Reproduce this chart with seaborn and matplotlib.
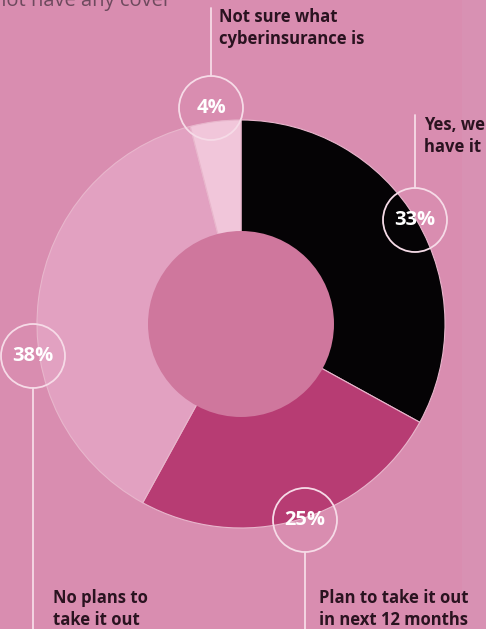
import matplotlib
matplotlib.use("Agg")
import matplotlib.pyplot as plt
import seaborn as sns
from matplotlib.patches import Circle, Rectangle

# ---- data ----
categories = ["Yes, we\nhave it", "Plan to take it out\nin next 12 months",
              "No plans to\ntake it out", "Not sure what\ncyberinsurance is"]
values = [33, 25, 38, 4]
pct_labels = ["33%", "25%", "38%", "4%"]
colors = ["#050305", "#b73c73", "#e2a1c1", "#f1c6da"]

BG = "#d98db0"
INNER = "#cf779d"
TEXT = "#2a1320"

sns.set_theme(style="white")
plt.rcParams["font.family"] = ["Open Sans", "DejaVu Sans"]

W, H = 486, 629
fig = plt.figure(figsize=(W / 100, H / 100), dpi=100, facecolor=BG)
ax = fig.add_axes([0, 0, 1, 1])
ax.set_xlim(0, W)
ax.set_ylim(0, H)
ax.set_aspect("equal")
ax.axis("off")
ax.set_facecolor(BG)

def Y(y):
    return H - y

# subtle background band on the right
ax.add_patch(Rectangle((462, 0), 30, H, facecolor="#d891b3", edgecolor="none", zorder=0))

cx, cy, R, r_in = 241, Y(324), 204, 93
ax.pie(values, colors=colors, startangle=90, counterclock=False,
       center=(cx, cy), radius=R, frame=True,
       wedgeprops=dict(linewidth=0.8, edgecolor="#e8b6cc"))
ax.set_xlim(0, W)
ax.set_ylim(0, H)
ax.axis("off")
ax.add_patch(Circle((cx, cy), r_in, facecolor=INNER, edgecolor="none", zorder=3))

# label circles: (center x, center y, line end y, text x, first baseline y)
rc = 32
specs = [
    (415, 220, 115, 424, 130),   # Yes
    (305, 520, 629, 319, 603),   # Plan
    (33, 356, 629, 53, 603),     # No plans
    (211, 108, 8, 219, 22),      # Not sure
]
for (x, y, yl, tx, ty), pl, cat in zip(specs, pct_labels, categories):
    ax.add_patch(Circle((x, Y(y)), rc, facecolor="none", edgecolor="#f6dbe7",
                        linewidth=1.3, zorder=5))
    if yl < y:
        ax.plot([x, x], [Y(y - rc), Y(yl)], color="#f6dbe7", lw=1.3, zorder=5)
    else:
        ax.plot([x, x], [Y(y + rc), Y(yl)], color="#f6dbe7", lw=1.3, zorder=5)
    ax.text(x, Y(y), pl, color="white", fontsize=14.5, fontweight="bold",
            ha="center", va="center", zorder=6)
    for i, line in enumerate(cat.split("\n")):
        ax.text(tx, Y(ty + 22 * i), line, color=TEXT, fontsize=12,
                fontweight="bold", ha="left", va="baseline", zorder=6)

# clipped headline remnant at top-left
ax.text(-6, Y(6), "not have any cover", color="#6e4a5e", fontsize=14.5,
        ha="left", va="baseline", zorder=6)

fig.savefig("out.png", dpi=100, facecolor=BG)
